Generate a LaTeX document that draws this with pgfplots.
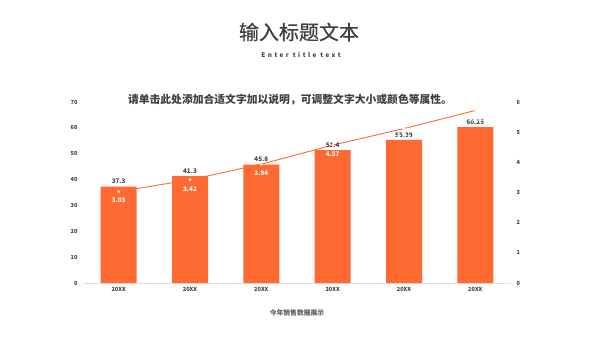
\documentclass[border=0pt]{standalone}
\usepackage{pgfplots}
\pgfplotsset{compat=1.18}
\usepackage{fontspec}
\setmainfont{Noto Sans CJK SC}
\definecolor{barc}{HTML}{FF6A33}
\definecolor{txt}{HTML}{404040}
\pgfplotstableread{
x bar line
0 37.3 3.03
1 41.3 3.42
2 45.8 3.94
3 51.4 4.57
4 55.39 5.12
5 60.25 5.72
}\datatable
\begin{document}
\begin{tikzpicture}[x=1pt,y=1pt]
\path[use as bounding box] (0,0) rectangle (600,338);
\pgfplotsset{
  base/.style={
    at={(83pt,55pt)}, anchor=south west,
    width=428pt, height=181pt, scale only axis,
    xmin=-0.5, xmax=5.5,
    /pgf/number format/assume math mode=true,
    tick label style={font=\fontsize{5.6}{6}\selectfont\bfseries, text=txt},
    major tick length=0pt,
  }
}
% line (behind bars), right axis
\begin{axis}[base,
  ymin=0, ymax=6, ytick={0,1,...,6},
  axis y line*=right, axis x line=none,
  y axis line style={draw=none},
  yticklabel style={xshift=2pt},
]
\addplot[barc, line width=0.9pt, no marks] table[x=x,y=line]{\datatable};
\end{axis}
% bars
\begin{axis}[base,
  ymin=0, ymax=70, ytick={0,10,...,70},
  axis y line*=left, axis x line*=bottom,
  y axis line style={draw=none},
  x axis line style={draw=gray!25, line width=0.6pt},
  xtick=data, xticklabels={20XX,20XX,20XX,20XX,20XX,20XX},
  xticklabel style={yshift=-1pt},
  yticklabel style={xshift=-2pt},
  xlabel={今年销售数据展示},
  xlabel style={font=\fontsize{6.8}{7}\selectfont\bfseries, text=txt!85, yshift=-11pt},
]
\addplot[ybar, bar width=36pt, fill=barc, draw=none,
  nodes near coords,
  every node near coord/.append style={font=\fontsize{6.3}{7}\selectfont\bfseries, text=txt, yshift=-1pt},
  point meta=explicit symbolic]
  table[x=x,y=bar,meta=bar]{\datatable};
\end{axis}
% markers and white labels
\begin{axis}[base,
  ymin=0, ymax=6, hide axis,
]
\addplot[only marks, mark=*, mark size=1.3pt, mark options={fill=white, draw=white!80!barc},
  nodes near coords,
  every node near coord/.append style={font=\fontsize{6.3}{7}\selectfont\bfseries, text=white, anchor=north, yshift=-3pt},
  point meta=explicit symbolic]
  table[x=x,y=line,meta=line]{\datatable};
\end{axis}
\node[text=txt, font=\fontsize{20}{22}\selectfont\addfontfeatures{FakeBold=0.6}] at (299,306) {输入标题文本};
\node[text=txt, font=\fontsize{6.3}{7}\selectfont\bfseries\addfontfeatures{LetterSpace=40}] at (301,283) {Enter title text};
\node[text=txt, font=\fontsize{10.8}{12}\selectfont\bfseries] at (290,238) {请单击此处添加合适文字加以说明，可调整文字大小或颜色等属性。};
\end{tikzpicture}
\end{document}
